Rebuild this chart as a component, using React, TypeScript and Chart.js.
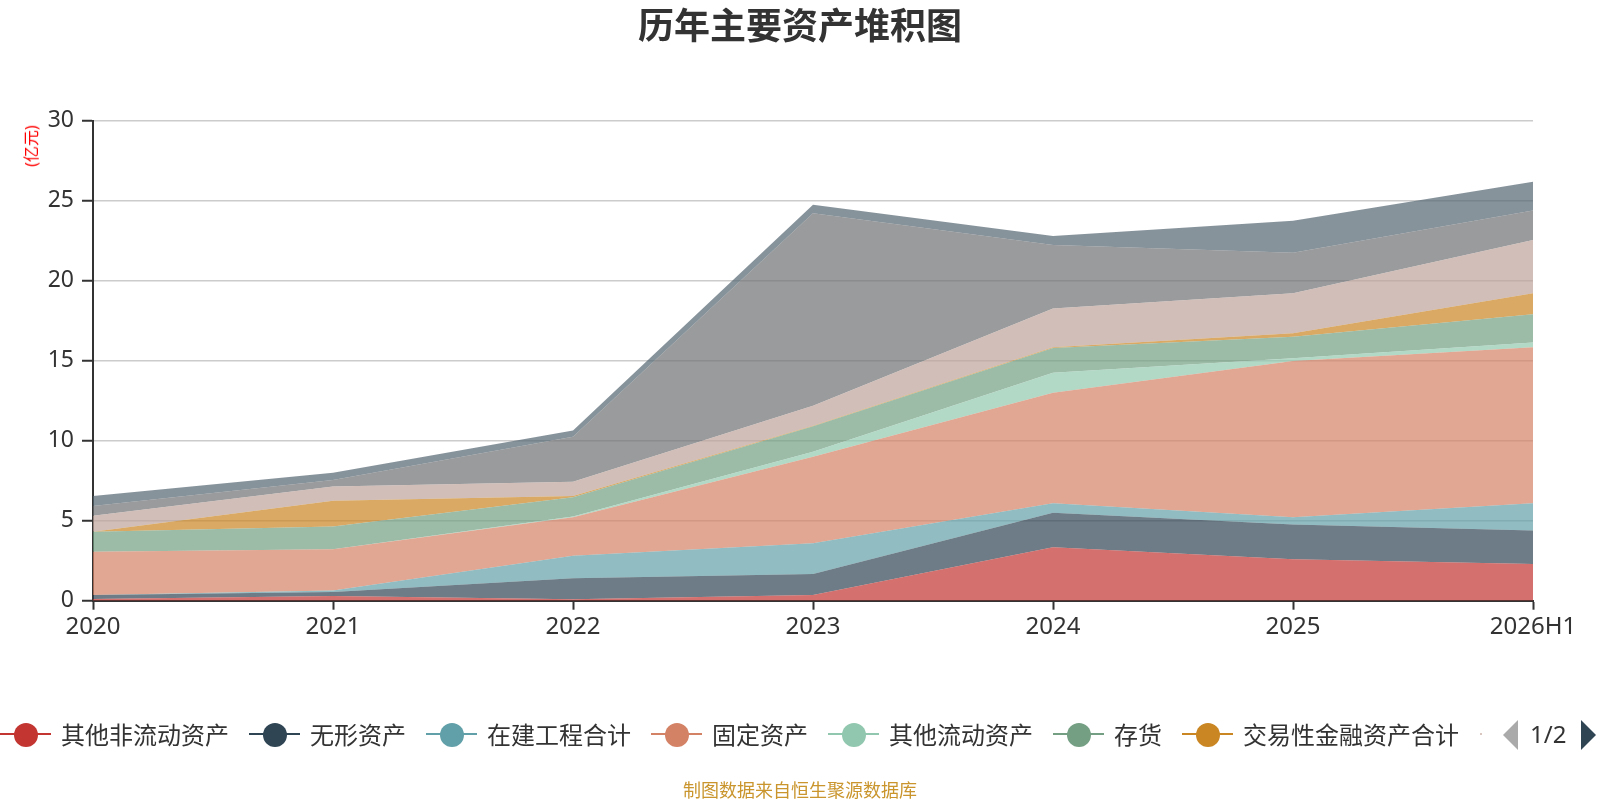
import { useEffect, useRef } from 'react';
import { Chart, registerables } from 'chart.js';

Chart.register(...registerables);

const years = ['2020', '2021', '2022', '2023', '2024', '2025', '2026H1'];
const yTicks = [0, 5, 10, 15, 20, 25, 30];

// 亿元, bottom to top of the stack
const otherNonCurrent = [0.1, 0.3, 0.09, 0.36, 3.34, 2.59, 2.29];
const intangible = [0.26, 0.25, 1.31, 1.31, 2.16, 2.18, 2.09];
const construction = [0.0, 0.08, 1.41, 1.92, 0.59, 0.44, 1.71];
const fixedAssets = [2.7, 2.58, 2.4, 5.41, 6.91, 9.77, 9.75];
const otherCurrent = [0.0, 0.0, 0.05, 0.31, 1.25, 0.17, 0.29];
const inventory = [1.25, 1.42, 1.2, 1.59, 1.55, 1.35, 1.77];
const tradingAssets = [0.0, 1.62, 0.08, 0.03, 0.04, 0.21, 1.31];
const receivables = [1.0, 0.88, 0.9, 1.25, 2.43, 2.5, 3.33];
const cash = [0.61, 0.41, 2.81, 12.04, 3.96, 2.54, 1.84];
const prepayments = [0.62, 0.46, 0.38, 0.52, 0.56, 2.0, 1.81];

const seriesNames = ['其他非流动资产', '无形资产', '在建工程合计', '固定资产', '其他流动资产', '存货', '交易性金融资产合计', '应收账款', '货币资金', '预付款项'];
const seriesData = [otherNonCurrent, intangible, construction, fixedAssets, otherCurrent, inventory, tradingAssets, receivables, cash, prepayments];
const seriesColors = ['#c23531', '#2f4554', '#61a0a8', '#d48265', '#91c7ae', '#749f83', '#ca8622', '#bda29a', '#6e7074', '#546570'];
const legendCount = 7;

function rgba(hex: string, a: number) {
  const n = parseInt(hex.slice(1), 16);
  return `rgba(${(n >> 16) & 255},${(n >> 8) & 255},${n & 255},${a})`;
}

const font = '"Noto Sans", "Noto Sans CJK SC", sans-serif';

export default function App() {
  const canvasRef = useRef<HTMLCanvasElement>(null);

  useEffect(() => {
    document.body.style.margin = '0';
    if (!canvasRef.current) return;
    const chart = new Chart(canvasRef.current, {
      type: 'line',
      data: {
        labels: years,
        datasets: seriesNames.map((name, i) => ({
          label: name,
          data: seriesData[i],
          backgroundColor: rgba(seriesColors[i], 0.7),
          borderColor: 'rgba(0,0,0,0)',
          borderWidth: 1,
          fill: i === 0 ? 'origin' : '-1',
          pointRadius: 0,
          tension: 0,
        })),
      },
      options: {
        responsive: false,
        animation: false,
        layout: { padding: { top: 120.7, right: 67, left: 0, bottom: 0 } },
        plugins: { legend: { display: false }, tooltip: { enabled: false } },
        scales: {
          x: {
            offset: false,
            afterFit: (s: any) => { s.height = 199.3; },
            grid: { drawOnChartArea: false, drawTicks: true, tickLength: 9, tickColor: '#333', tickWidth: 2 },
            border: { color: '#333', width: 2 },
            ticks: { color: '#333', font: { family: font, size: 24 }, padding: 3, maxRotation: 0 },
          },
          y: {
            stacked: true,
            min: 0,
            max: 30,
            afterFit: (s: any) => { s.width = 93; },
            afterBuildTicks: (s: any) => { s.ticks = yTicks.map((v) => ({ value: v })); },
            grid: { color: '#cccccc', lineWidth: 1.5, tickLength: 11, tickColor: '#333', tickWidth: 2 },
            border: { color: '#333', width: 2 },
            ticks: { color: '#333', font: { family: font, size: 23 }, padding: 8 },
          },
        },
      },
    });
    return () => chart.destroy();
  }, []);

  return (
    <div style={{ position: 'absolute', left: 0, top: 0, width: 1600, height: 800, background: '#fff', fontFamily: font }}>
      <canvas ref={canvasRef} width={1600} height={800} style={{ position: 'absolute', left: 0, top: 0 }} />
      <div style={{ position: 'absolute', left: 0, width: 1600, top: 3, textAlign: 'center', fontSize: 36, fontWeight: 'bold', color: '#333', lineHeight: '46px' }}>
        历年主要资产堆积图
      </div>
      <div style={{ position: 'absolute', left: 31, top: 146, transform: 'translate(-50%, -50%) rotate(-90deg)', fontSize: 16, color: 'red', whiteSpace: 'nowrap', lineHeight: '16px' }}>
        (亿元)
      </div>
      <div style={{ position: 'absolute', left: 0, top: 719, height: 30, display: 'flex', alignItems: 'center' }}>
        {seriesNames.slice(0, legendCount).map((name, i) => (
          <div key={name} style={{ display: 'flex', alignItems: 'center', marginRight: 20 }}>
            <span style={{ position: 'relative', width: 51, height: 24, display: 'inline-block' }}>
              <span style={{ position: 'absolute', left: 0, top: 11, width: 51, height: 2, background: seriesColors[i] }} />
              <span style={{ position: 'absolute', left: 13.5, top: 1, width: 24, height: 24, borderRadius: '50%', background: seriesColors[i] }} />
            </span>
            <span style={{ marginLeft: 10, fontSize: 24, color: '#333', lineHeight: '30px', fontFamily: '"Noto Sans CJK SC", sans-serif' }}>{name}</span>
          </div>
        ))}
      </div>
      <div style={{ position: 'absolute', left: 1480, top: 733, width: 2, height: 2, background: '#d8c6bf' }} />
      <div style={{ position: 'absolute', left: 1503, top: 720, width: 0, height: 0, borderTop: '15px solid transparent', borderBottom: '15px solid transparent', borderRight: '15px solid #aaa' }} />
      <div style={{ position: 'absolute', left: 1530, top: 719, fontSize: 24, color: '#333', lineHeight: '30px' }}>1/2</div>
      <div style={{ position: 'absolute', left: 1581, top: 720, width: 0, height: 0, borderTop: '15px solid transparent', borderBottom: '15px solid transparent', borderLeft: '15px solid #2f4554' }} />
      <div style={{ position: 'absolute', left: 0, width: 1600, top: 777, textAlign: 'center', fontSize: 18, color: '#c9952c', lineHeight: '24px', fontFamily: '"Noto Sans CJK SC", sans-serif' }}>
        制图数据来自恒生聚源数据库
      </div>
    </div>
  );
}
